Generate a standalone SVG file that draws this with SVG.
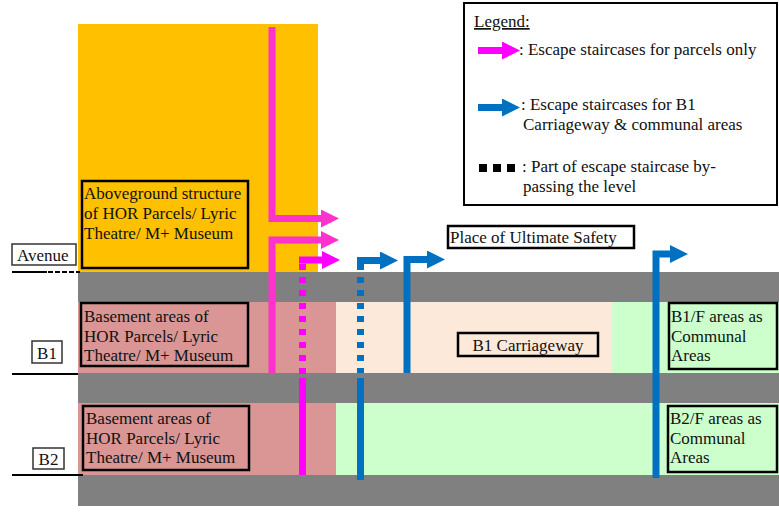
<svg xmlns="http://www.w3.org/2000/svg" width="779" height="512" viewBox="0 0 779 512">
  <style>
    text { font-family: "Liberation Serif", "Times New Roman", serif; font-size: 17px; fill: #111; }
    .box { fill: none; stroke: #000; stroke-width: 2.5; }
    .lbl { fill: #fff; stroke: #333; stroke-width: 1.5; }
    .pink { fill: none; stroke: #FF33CC; stroke-width: 7; }
    .mag { fill: none; stroke: #FF00FF; stroke-width: 7; }
    .blue { fill: none; stroke: #0070C0; stroke-width: 7; }
    .dot { stroke-dasharray: 6 7; }
    .lvl { stroke: #000; stroke-width: 2; }
  </style>
  <defs>
    <marker id="hPink" markerUnits="userSpaceOnUse" viewBox="0 0 18 18" markerWidth="18" markerHeight="18" refX="0" refY="9" orient="auto">
      <path d="M0,0 L18,9 L0,18 Z" fill="#FF33CC"/>
    </marker>
    <marker id="hMag" markerUnits="userSpaceOnUse" viewBox="0 0 18 18" markerWidth="18" markerHeight="18" refX="0" refY="9" orient="auto">
      <path d="M0,0 L18,9 L0,18 Z" fill="#FF00FF"/>
    </marker>
    <marker id="hBlue" markerUnits="userSpaceOnUse" viewBox="0 0 18 18" markerWidth="18" markerHeight="18" refX="0" refY="9" orient="auto">
      <path d="M0,0 L18,9 L0,18 Z" fill="#0070C0"/>
    </marker>
  </defs>

  <rect width="779" height="512" fill="#fff"/>

  <!-- building section: floors and slabs -->
  <g id="section">
    <rect x="78" y="24" width="240" height="248" fill="#FFC000"/>
    <rect x="78" y="272" width="701" height="30" fill="#808080"/>
    <rect x="78" y="302" width="258" height="71" fill="#D99694"/>
    <rect x="336" y="302" width="276" height="71" fill="#FDE9D9"/>
    <rect x="612" y="302" width="167" height="71" fill="#CCFFCC"/>
    <rect x="78" y="373" width="701" height="30" fill="#808080"/>
    <rect x="78" y="403" width="258" height="72" fill="#D99694"/>
    <rect x="336" y="403" width="443" height="72" fill="#CCFFCC"/>
    <rect x="78" y="475" width="701" height="31" fill="#808080"/>
  </g>

  <!-- level markers -->
  <g id="level-avenue">
    <rect class="lbl" x="12" y="244" width="64" height="21"/>
    <text x="17" y="261">Avenue</text>
    <line class="lvl" x1="12" y1="272" x2="47" y2="272"/>
    <line class="lvl" x1="48" y1="272" x2="80" y2="272" stroke-dasharray="5 2"/>
  </g>
  <g id="level-b1">
    <rect class="lbl" x="32" y="341" width="30" height="22"/>
    <text x="47" y="359" text-anchor="middle">B1</text>
    <line class="lvl" x1="12" y1="374" x2="78" y2="374"/>
  </g>
  <g id="level-b2">
    <rect class="lbl" x="33" y="448" width="31" height="21"/>
    <text x="48.5" y="465" text-anchor="middle">B2</text>
    <line class="lvl" x1="12" y1="475" x2="83" y2="475"/>
  </g>

  <!-- area labels -->
  <g id="aboveground">
    <rect class="box" x="82" y="181" width="166" height="87"/>
    <text x="84" y="199">Aboveground structure</text>
    <text x="84" y="219">of HOR Parcels/ Lyric</text>
    <text x="84" y="239">Theatre/ M+ Museum</text>
  </g>
  <g id="basement-b1">
    <rect class="box" x="81" y="303" width="167" height="63"/>
    <text x="84" y="322">Basement areas of</text>
    <text x="84" y="342">HOR Parcels/ Lyric</text>
    <text x="84" y="361">Theatre/ M+ Museum</text>
  </g>
  <g id="basement-b2">
    <rect class="box" x="83" y="406" width="166" height="64"/>
    <text x="86" y="424">Basement areas of</text>
    <text x="86" y="444">HOR Parcels/ Lyric</text>
    <text x="86" y="463">Theatre/ M+ Museum</text>
  </g>
  <g id="carriageway">
    <rect class="box" x="458" y="333" width="140" height="23"/>
    <text x="528" y="351" text-anchor="middle">B1 Carriageway</text>
  </g>
  <g id="communal-b1">
    <rect class="box" x="669" y="303" width="108" height="66"/>
    <text x="671" y="322">B1/F areas as</text>
    <text x="671" y="342">Communal</text>
    <text x="671" y="361">Areas</text>
  </g>
  <g id="communal-b2">
    <rect class="box" x="668" y="406" width="109" height="66"/>
    <text x="670" y="424">B2/F areas as</text>
    <text x="670" y="444">Communal</text>
    <text x="670" y="463">Areas</text>
  </g>
  <g id="safety">
    <rect class="box" x="448" y="226" width="186" height="22" stroke-width="2"/>
    <text x="450" y="243">Place of Ultimate Safety</text>
  </g>

  <!-- escape staircases -->
  <g id="staircases">
    <path class="pink" d="M272,27 V218.5 H321" marker-end="url(#hPink)"/>
    <path class="pink" d="M272,373 V240 H321" marker-end="url(#hPink)"/>
    <path class="mag" d="M299,260 H322" marker-end="url(#hMag)"/>
    <path class="mag dot" d="M302.5,264 V374"/>
    <path class="mag" d="M302.5,378 V475"/>

    <path class="blue" d="M357,260.5 H380" marker-end="url(#hBlue)"/>
    <path class="blue dot" d="M360.5,264 V373"/>
    <path class="blue" d="M360.5,378 V480"/>
    <path class="blue" d="M407,373 V259.5 H427" marker-end="url(#hBlue)"/>
    <path class="blue" d="M656,478 V254 H670" marker-end="url(#hBlue)"/>
  </g>

  <!-- legend -->
  <g id="legend">
    <rect x="464" y="3" width="313" height="202" fill="#fff" stroke="#000" stroke-width="2"/>
    <text x="474" y="27" text-decoration="underline">Legend:</text>
    <path class="mag" d="M478,50.5 H502" marker-end="url(#hMag)"/>
    <text x="519" y="55">: Escape staircases for parcels only</text>
    <path class="blue" d="M478,107.5 H502" marker-end="url(#hBlue)"/>
    <text x="521" y="110">: Escape staircases for B1</text>
    <text x="523" y="130">Carriageway &amp; communal areas</text>
    <rect x="479" y="164" width="8" height="8" fill="#000"/>
    <rect x="493" y="164" width="8" height="8" fill="#000"/>
    <rect x="507" y="164" width="8" height="8" fill="#000"/>
    <text x="522" y="172">: Part of escape staircase by-</text>
    <text x="523" y="192">passing the level</text>
  </g>
</svg>
